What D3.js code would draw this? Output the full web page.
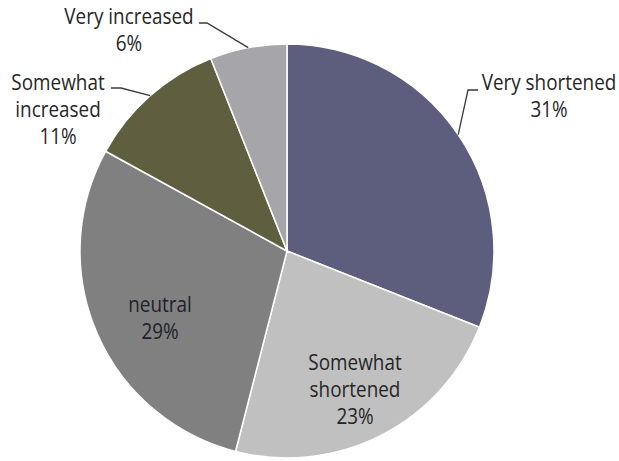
<!DOCTYPE html>
<html>
<head>
<meta charset="utf-8">
<script src="https://cdn.jsdelivr.net/npm/d3@7"></script>
<style>
  html, body { margin: 0; padding: 0; background: #ffffff; }
  svg { display: block; }
</style>
</head>
<body>
<div id="chart"></div>
<script>
// Survey answers, clockwise from 12 o'clock
const categories = ["Very shortened", "Somewhat shortened", "neutral", "Somewhat increased", "Very increased"];
const values = [31, 23, 29, 11, 6];
const sliceColors = ["#5d5d7d", "#c0c0c0", "#808080", "#5f5f3f", "#a6a6aa"];

// Label lines and where each label block sits (center x, first baseline y)
const labelLines = [
  ["Very shortened"],
  ["Somewhat", "shortened"],
  ["neutral"],
  ["Somewhat", "increased"],
  ["Very increased"]
];
const labelPos = [
  { x: 549, y: 90 },
  { x: 355, y: 370 },
  { x: 160, y: 312 },
  { x: 58, y: 90 },
  { x: 129, y: 24 }
];
// Leader lines: elbow point and end of the short horizontal stub (null = label inside slice)
const leaders = [
  { elbow: [468, 90], end: [478, 90] },
  null,
  null,
  { elbow: [121, 88], end: [111, 88] },
  { elbow: [207, 23], end: [199, 23] }
];

const W = 619, H = 461;
const cx = 287, cy = 251, R = 207;
const lineH = 27;
const fontSize = 21;
const squeeze = 0.9;

const svg = d3.select("#chart").append("svg")
  .attr("width", W).attr("height", H);

const pie = d3.pie().sort(null).value(d => d)
  .startAngle(0).endAngle(2 * Math.PI);
const arcs = pie(values);
const arc = d3.arc().innerRadius(0).outerRadius(R);
const color = d3.scaleOrdinal().domain(categories).range(sliceColors);

const g = svg.append("g").attr("transform", `translate(${cx},${cy})`);

g.selectAll("path.slice")
  .data(arcs)
  .join("path")
  .attr("class", "slice")
  .attr("d", arc)
  .attr("fill", (d, i) => color(categories[i]))
  .attr("stroke", "#ffffff")
  .attr("stroke-width", 1.5)
  .attr("stroke-linejoin", "round");

// Leader lines from the middle of each outer slice edge
const edgeArc = d3.arc().innerRadius(R).outerRadius(R);
arcs.forEach((a, i) => {
  const L = leaders[i];
  if (!L) return;
  const mid = (a.startAngle + a.endAngle) / 2;
  const px = cx + R * Math.sin(mid);
  const py = cy - R * Math.cos(mid);
  svg.append("path")
    .attr("d", d3.line()([[px, py], L.elbow, L.end]))
    .attr("fill", "none")
    .attr("stroke", "#3a3a3a")
    .attr("stroke-width", 1.3);
});

// Labels: category name lines followed by the percentage
arcs.forEach((a, i) => {
  const p = labelPos[i];
  const lines = labelLines[i].concat([values[i] + "%"]);
  const tg = svg.append("g")
    .attr("transform", `translate(${p.x},${p.y}) scale(${squeeze},1)`);
  tg.selectAll("text")
    .data(lines)
    .join("text")
    .attr("x", 0)
    .attr("y", (d, k) => k * lineH)
    .attr("text-anchor", "middle")
    .attr("font-family", "'Open Sans', 'Noto Sans', sans-serif")
    .attr("font-size", fontSize)
    .attr("fill", i === 2 ? "#20202c" : "#262626")
    .text(d => d);
});
</script>
</body>
</html>
